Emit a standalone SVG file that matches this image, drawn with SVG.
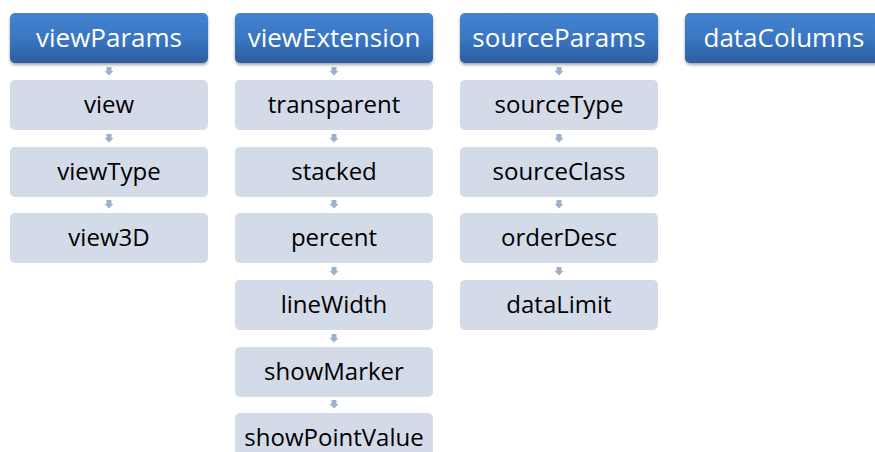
<svg xmlns="http://www.w3.org/2000/svg" width="875" height="452" viewBox="0 0 875 452">
<style>
.hd{fill:url(#hg);filter:url(#sh)}
.ch{fill:#d3dae8}
.ht{font-family:"Open Sans","Liberation Sans",sans-serif;font-size:26px;fill:#ffffff;text-anchor:middle}
.ct{font-family:"Open Sans","Liberation Sans",sans-serif;font-size:24px;fill:#000000;text-anchor:middle}
.ar{fill:#9fb0cf}
</style>
<defs>
<linearGradient id="hg" x1="0" y1="0" x2="0" y2="1">
<stop offset="0" stop-color="#4384d2"/>
<stop offset="0.5" stop-color="#3a76c3"/>
<stop offset="1" stop-color="#2c5e9f"/>
</linearGradient>
<filter id="sh" x="-5%" y="-10%" width="110%" height="130%">
<feDropShadow dx="0" dy="2" stdDeviation="1.5" flood-color="#000" flood-opacity="0.35"/>
</filter>
<path id="arw" d="M-2.5,0 H2.5 V4 H4.5 L0,8.5 L-4.5,4 H-2.5 Z"/>
</defs>
<g id="connectors">
<use href="#arw" class="ar" x="109" y="67"/>
<use href="#arw" class="ar" x="109" y="134"/>
<use href="#arw" class="ar" x="109" y="200"/>
<use href="#arw" class="ar" x="334" y="67"/>
<use href="#arw" class="ar" x="334" y="134"/>
<use href="#arw" class="ar" x="334" y="200"/>
<use href="#arw" class="ar" x="334" y="267"/>
<use href="#arw" class="ar" x="334" y="334"/>
<use href="#arw" class="ar" x="334" y="400"/>
<use href="#arw" class="ar" x="559" y="67"/>
<use href="#arw" class="ar" x="559" y="134"/>
<use href="#arw" class="ar" x="559" y="200"/>
<use href="#arw" class="ar" x="559" y="267"/>
</g>
<g id="viewParams"><rect class="hd" x="10" y="13" width="198" height="50" rx="5"/><text class="ht" x="109" y="47">viewParams</text></g>
<g id="view"><rect class="ch" x="10" y="80" width="198" height="50" rx="5"/><text class="ct" x="109" y="113">view</text></g>
<g id="viewType"><rect class="ch" x="10" y="147" width="198" height="50" rx="5"/><text class="ct" x="109" y="180">viewType</text></g>
<g id="view3D"><rect class="ch" x="10" y="213" width="198" height="50" rx="5"/><text class="ct" x="109" y="246">view3D</text></g>

<g id="viewExtension"><rect class="hd" x="235" y="13" width="198" height="50" rx="5"/><text class="ht" x="334" y="47">viewExtension</text></g>
<g id="transparent"><rect class="ch" x="235" y="80" width="198" height="50" rx="5"/><text class="ct" x="334" y="113">transparent</text></g>
<g id="stacked"><rect class="ch" x="235" y="147" width="198" height="50" rx="5"/><text class="ct" x="334" y="180">stacked</text></g>
<g id="percent"><rect class="ch" x="235" y="213" width="198" height="50" rx="5"/><text class="ct" x="334" y="246">percent</text></g>
<g id="lineWidth"><rect class="ch" x="235" y="280" width="198" height="50" rx="5"/><text class="ct" x="334" y="313">lineWidth</text></g>
<g id="showMarker"><rect class="ch" x="235" y="347" width="198" height="50" rx="5"/><text class="ct" x="334" y="380">showMarker</text></g>
<g id="showPointValue"><rect class="ch" x="235" y="413" width="198" height="50" rx="5"/><text class="ct" x="334" y="446">showPointValue</text></g>

<g id="sourceParams"><rect class="hd" x="460" y="13" width="198" height="50" rx="5"/><text class="ht" x="559" y="47">sourceParams</text></g>
<g id="sourceType"><rect class="ch" x="460" y="80" width="198" height="50" rx="5"/><text class="ct" x="559" y="113">sourceType</text></g>
<g id="sourceClass"><rect class="ch" x="460" y="147" width="198" height="50" rx="5"/><text class="ct" x="559" y="180">sourceClass</text></g>
<g id="orderDesc"><rect class="ch" x="460" y="213" width="198" height="50" rx="5"/><text class="ct" x="559" y="246">orderDesc</text></g>
<g id="dataLimit"><rect class="ch" x="460" y="280" width="198" height="50" rx="5"/><text class="ct" x="559" y="313">dataLimit</text></g>

<g id="dataColumns"><rect class="hd" x="685" y="13" width="198" height="50" rx="5"/><text class="ht" x="784" y="47">dataColumns</text></g>
</svg>
